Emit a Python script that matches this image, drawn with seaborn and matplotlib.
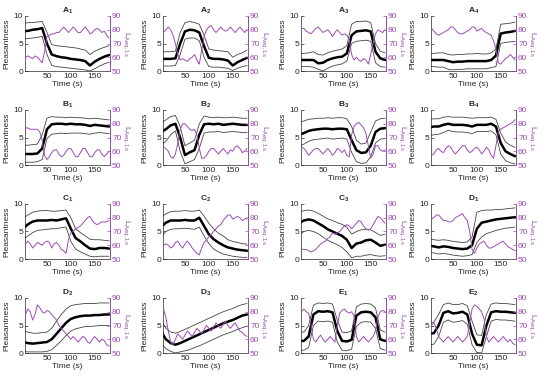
import numpy as np
import seaborn as sns
import matplotlib.pyplot as plt

sns.set_style("white")
plt.rcParams["font.family"] = ["Liberation Sans", "DejaVu Sans"]
plt.rcParams["mathtext.fontset"] = "custom"
plt.rcParams["mathtext.rm"] = "Liberation Sans"
plt.rcParams["mathtext.bf"] = "Liberation Sans:bold"

# time grids (s)
t_pl = list(range(0, 181, 10))      # pleasantness samples
t_la = list(range(5, 181, 5))       # L_Aeq,1s samples

# ---- A ----
A1_mean = [7.2, 7.3, 7.5, 7.6, 7.8, 5.0, 3.0, 2.7, 2.5, 2.4, 2.2, 2.1, 2.0, 1.8, 1.0, 1.7, 2.2, 2.6, 2.9]
A1_hi = [8.6, 8.8, 8.8, 8.9, 9.0, 7.0, 4.8, 4.6, 4.5, 4.4, 4.3, 4.2, 4.0, 3.8, 3.0, 3.6, 4.0, 4.3, 4.6]
A1_lo = [5.8, 5.9, 6.0, 6.1, 6.3, 3.0, 1.0, 0.8, 0.7, 0.6, 0.5, 0.4, 0.3, 0.2, 0.0, 0.4, 0.9, 1.3, 1.6]
A1_la = [60, 61, 60, 59, 61, 60, 58, 56, 64, 75, 76, 77, 77, 78, 78, 80, 82, 80, 78, 80, 82, 80, 78, 78,
         80, 82, 80, 77, 78, 80, 81, 80, 78, 79, 76, 74]

A2_mean = [2.2, 2.2, 2.2, 2.3, 5.0, 7.2, 7.5, 7.4, 7.0, 4.5, 2.4, 2.2, 2.2, 2.1, 1.9, 1.0, 1.6, 2.0, 2.4]
A2_hi = [3.5, 3.5, 3.5, 3.6, 7.0, 8.8, 9.0, 8.8, 8.5, 6.5, 4.0, 3.8, 3.7, 3.6, 3.5, 2.5, 3.0, 3.3, 3.8]
A2_lo = [0.9, 0.9, 0.9, 1.0, 3.0, 5.8, 6.0, 6.0, 5.5, 2.5, 0.8, 0.7, 0.7, 0.6, 0.5, 0.1, 0.5, 0.8, 1.0]
A2_la = [78, 80, 82, 80, 76, 70, 62, 58, 59, 58, 57, 59, 60, 62, 58, 55, 65, 75, 80, 82, 83, 80, 78, 80,
         82, 80, 79, 80, 82, 80, 78, 80, 82, 80, 78, 80]

A3_mean = [2.0, 2.0, 2.0, 2.0, 1.4, 1.5, 2.0, 2.3, 2.5, 2.6, 3.2, 6.5, 7.2, 7.3, 7.4, 7.2, 3.5, 2.3, 2.0]
A3_hi = [3.2, 3.2, 3.3, 3.5, 3.0, 2.9, 3.3, 3.6, 3.8, 4.0, 4.6, 8.5, 9.0, 9.0, 9.1, 8.8, 5.0, 3.6, 3.3]
A3_lo = [0.8, 0.8, 0.8, 0.7, 0.3, 0.0, 0.5, 0.9, 1.1, 1.3, 1.8, 5.0, 5.4, 5.5, 5.6, 5.4, 1.5, 0.8, 0.7]
A3_la = [81, 81, 79, 78, 77, 79, 81, 82, 80, 78, 79, 80, 78, 75, 78, 80, 78, 76, 77, 76, 73, 62, 58, 60,
         58, 57, 59, 58, 55, 62, 70, 77, 80, 79, 78, 80]

A4_mean = [2.0, 2.0, 2.0, 2.0, 1.8, 1.6, 1.7, 1.7, 1.8, 1.8, 1.8, 1.8, 1.8, 2.0, 2.8, 6.8, 7.0, 7.1, 7.3]
A4_hi = [3.2, 3.2, 3.3, 3.3, 3.0, 2.9, 3.0, 3.0, 3.1, 3.1, 3.2, 3.1, 3.1, 3.3, 4.0, 8.5, 8.6, 8.7, 8.9]
A4_lo = [0.8, 0.8, 0.7, 0.7, 0.3, 0.2, 0.3, 0.3, 0.4, 0.4, 0.4, 0.4, 0.4, 0.6, 0.8, 5.0, 5.2, 5.3, 5.4]
A4_la = [81, 79, 77, 76, 77, 78, 79, 80, 82, 82, 80, 78, 77, 77, 78, 79, 80, 82, 82, 79, 80, 81, 79, 78,
         77, 76, 72, 66, 56, 55, 57, 59, 60, 62, 60, 58]

# ---- B ----
B1_mean = [2.0, 2.0, 2.0, 2.1, 3.0, 6.5, 7.4, 7.5, 7.5, 7.4, 7.5, 7.4, 7.4, 7.3, 7.1, 7.3, 7.2, 7.1, 7.0]
B1_hi = [3.6, 3.6, 3.7, 3.8, 5.5, 8.5, 8.8, 8.7, 8.7, 8.6, 8.7, 8.6, 8.6, 8.5, 8.4, 8.5, 8.4, 8.3, 8.2]
B1_lo = [0.5, 0.5, 0.5, 0.6, 1.0, 4.8, 5.6, 5.7, 5.8, 5.7, 5.8, 5.8, 5.8, 5.7, 5.6, 5.8, 5.9, 5.8, 5.7]
B1_la = [77, 77, 76, 76, 76, 76, 74, 68, 57, 54, 56, 59, 61, 61, 58, 56, 57, 60, 62, 62, 59, 56, 56, 59,
         62, 62, 59, 56, 56, 59, 61, 61, 58, 56, 58, 60]

B2_mean = [6.0, 6.5, 7.2, 7.5, 5.0, 1.8, 2.3, 2.7, 5.5, 7.4, 7.5, 7.4, 7.5, 7.3, 7.4, 7.5, 7.4, 7.3, 7.3]
B2_hi = [7.6, 8.2, 8.8, 9.0, 7.0, 3.5, 4.0, 4.5, 7.5, 8.9, 8.7, 8.6, 8.7, 8.6, 8.6, 8.7, 8.6, 8.5, 8.5]
B2_lo = [3.6, 4.3, 5.5, 6.2, 2.5, 0.2, 0.6, 1.0, 3.0, 5.8, 6.0, 6.0, 6.1, 5.9, 6.0, 6.1, 6.0, 5.9, 5.9]
B2_la = [63, 62, 60, 56, 55, 58, 66, 76, 80, 80, 78, 76, 75, 76, 72, 62, 55, 55, 57, 60, 62, 62, 60, 58,
         60, 62, 60, 58, 61, 60, 63, 64, 62, 59, 60, 62]

B3_mean = [5.5, 5.8, 6.2, 6.4, 6.5, 6.6, 6.6, 6.5, 6.6, 6.6, 6.5, 4.5, 2.7, 2.2, 2.3, 3.5, 6.0, 6.6, 6.7]
B3_hi = [7.8, 8.0, 8.3, 8.4, 8.5, 8.5, 8.6, 8.5, 8.6, 8.6, 8.4, 7.0, 4.5, 3.8, 4.0, 6.0, 8.0, 8.4, 8.5]
B3_lo = [3.4, 3.8, 4.3, 4.6, 4.7, 4.8, 4.9, 4.7, 4.8, 4.9, 4.7, 2.3, 0.6, 0.3, 0.4, 1.5, 4.0, 4.7, 4.8]
B3_la = [63, 62, 60, 57, 59, 61, 62, 62, 60, 58, 60, 62, 60, 57, 59, 62, 61, 59, 61, 57, 56, 72, 78, 80,
         81, 79, 77, 73, 64, 55, 58, 64, 64, 61, 60, 61]

B4_mean = [6.8, 7.0, 7.0, 7.3, 7.5, 7.3, 7.3, 7.3, 7.2, 7.0, 7.3, 7.3, 7.3, 7.5, 7.0, 4.0, 2.5, 2.0, 1.6]
B4_hi = [8.3, 8.4, 8.4, 8.7, 8.8, 8.7, 8.7, 8.7, 8.6, 8.5, 8.6, 8.6, 8.6, 8.7, 8.3, 5.8, 4.2, 3.6, 3.2]
B4_lo = [5.3, 5.5, 5.6, 5.9, 6.3, 6.1, 6.0, 6.0, 5.9, 5.7, 6.1, 6.1, 6.1, 6.2, 5.5, 2.0, 0.8, 0.4, 0.2]
B4_la = [57, 58, 61, 62, 60, 59, 62, 64, 63, 60, 58, 60, 62, 64, 64, 61, 59, 60, 62, 63, 61, 58, 60, 63,
         61, 57, 55, 64, 74, 76, 77, 78, 79, 80, 81, 83]

# ---- C ----
C1_mean = [5.5, 6.3, 6.8, 7.0, 7.0, 7.0, 7.1, 7.0, 7.2, 7.4, 5.5, 3.8, 3.2, 2.5, 1.9, 1.8, 2.0, 2.0, 1.9]
C1_hi = [7.4, 8.0, 8.5, 8.7, 8.8, 8.8, 8.7, 8.7, 8.8, 8.9, 7.5, 5.5, 4.8, 4.2, 3.6, 3.5, 3.5, 3.4, 3.3]
C1_lo = [3.5, 4.2, 4.8, 5.2, 5.3, 5.4, 5.5, 5.5, 5.7, 5.8, 3.2, 1.8, 1.3, 0.9, 0.5, 0.4, 0.5, 0.5, 0.5]
C1_la = [61, 63, 61, 58, 60, 62, 61, 60, 62, 63, 62, 58, 61, 62, 60, 57, 56, 54, 64, 69, 70, 72, 73, 74,
         76, 78, 80, 81, 78, 76, 75, 76, 77, 77, 77, 78]

C2_mean = [5.8, 6.6, 7.0, 7.0, 7.0, 7.1, 7.0, 7.0, 7.5, 6.0, 4.5, 3.6, 3.0, 2.5, 2.1, 1.9, 1.7, 1.6, 1.5]
C2_hi = [7.6, 8.2, 8.6, 8.7, 8.7, 8.8, 8.7, 8.7, 8.9, 7.8, 6.5, 5.5, 4.7, 4.2, 3.5, 3.2, 3.0, 2.8, 2.7]
C2_lo = [4.0, 5.0, 5.4, 5.5, 5.5, 5.6, 5.5, 5.4, 5.8, 4.2, 2.8, 1.8, 1.3, 0.9, 0.7, 0.5, 0.4, 0.3, 0.3]
C2_la = [60, 61, 60, 58, 59, 62, 63, 60, 58, 61, 63, 61, 58, 56, 54, 53, 58, 62, 64, 66, 68, 70, 72, 74,
         75, 78, 80, 82, 82, 79, 80, 81, 80, 78, 79, 80]

C3_mean = [6.5, 7.0, 7.2, 7.0, 6.5, 6.0, 5.4, 5.0, 4.6, 4.2, 3.5, 2.0, 2.8, 3.0, 3.4, 3.5, 3.0, 2.4, 2.6]
C3_hi = [8.5, 8.8, 8.9, 8.7, 8.3, 7.8, 7.3, 7.0, 6.6, 6.3, 5.8, 4.5, 5.0, 5.3, 5.4, 5.3, 4.8, 4.3, 4.5]
C3_lo = [4.3, 5.0, 5.2, 5.0, 4.6, 4.0, 3.4, 3.0, 2.6, 2.1, 1.3, 0.2, 0.5, 0.5, 0.7, 0.8, 0.6, 0.5, 0.6]
C3_la = [57, 57, 57, 56, 55, 56, 57, 59, 61, 62, 63, 65, 66, 69, 68, 69, 70, 72, 74, 75, 74, 72, 74, 76,
         78, 77, 74, 72, 71, 72, 75, 78, 81, 80, 78, 76]

# ---- D ----
D1_mean = [2.4, 2.3, 2.1, 2.3, 2.2, 2.0, 1.9, 1.8, 1.9, 2.5, 5.5, 6.6, 6.8, 7.0, 7.2, 7.3, 7.4, 7.5, 7.6]
D1_hi = [3.6, 3.5, 3.4, 3.5, 3.4, 3.2, 3.1, 3.0, 3.1, 4.0, 8.5, 8.8, 8.9, 8.9, 9.0, 9.0, 9.1, 9.2, 9.3]
D1_lo = [1.2, 1.1, 0.9, 1.0, 0.9, 0.7, 0.6, 0.5, 0.6, 0.8, 3.0, 4.0, 4.6, 4.9, 5.2, 5.4, 5.6, 5.7, 5.8]
D1_la = [79, 80, 82, 82, 80, 78, 78, 77, 77, 78, 80, 81, 82, 83, 80, 78, 70, 57, 54, 58, 61, 62, 63, 60,
         58, 58, 59, 60, 61, 62, 63, 61, 59, 58, 57, 56]

D2_mean = [2.0, 1.8, 1.7, 1.8, 1.9, 2.0, 2.5, 3.5, 4.5, 5.5, 6.2, 6.5, 6.7, 6.8, 6.8, 6.9, 6.9, 7.0, 7.0]
D2_hi = [4.0, 3.8, 3.6, 3.6, 3.7, 3.8, 4.5, 5.8, 7.0, 8.0, 8.6, 8.8, 8.9, 9.0, 9.0, 9.0, 9.1, 9.1, 9.1]
D2_lo = [0.3, 0.2, 0.2, 0.2, 0.2, 0.3, 0.6, 1.4, 2.2, 3.2, 4.0, 4.4, 4.6, 4.8, 4.8, 4.9, 5.0, 5.0, 5.0]
D2_la = [78, 82, 80, 74, 78, 85, 83, 80, 79, 81, 80, 78, 76, 74, 70, 68, 66, 64, 62, 60, 62, 60, 58, 60,
         62, 61, 58, 57, 60, 62, 60, 58, 60, 59, 56, 55]

D3_mean = [4.0, 2.5, 1.8, 1.5, 1.8, 2.2, 2.6, 3.0, 3.4, 3.8, 4.2, 4.6, 5.0, 5.4, 5.7, 6.0, 6.4, 6.8, 7.0]
D3_hi = [6.0, 4.5, 3.8, 3.6, 3.9, 4.3, 4.7, 5.1, 5.5, 5.9, 6.3, 6.7, 7.1, 7.5, 7.8, 8.1, 8.5, 8.8, 9.0]
D3_lo = [1.8, 0.8, 0.3, 0.0, 0.2, 0.4, 0.6, 1.0, 1.3, 1.7, 2.1, 2.5, 2.9, 3.3, 3.6, 3.9, 4.3, 4.6, 4.9]
D3_la = [82, 76, 66, 58, 56, 60, 64, 62, 60, 63, 66, 64, 62, 65, 68, 66, 64, 67, 70, 68, 66, 69, 72, 70,
         68, 71, 73, 70, 68, 70, 72, 69, 66, 65, 63, 62]

# ---- E ----
E1_mean = [2.2, 2.2, 3.0, 7.0, 7.6, 7.5, 7.6, 7.4, 4.0, 2.2, 2.1, 2.4, 6.8, 7.4, 7.5, 7.4, 6.5, 2.5, 2.2]
E1_hi = [3.8, 3.8, 5.0, 8.7, 9.1, 9.0, 9.1, 8.9, 6.0, 3.8, 3.7, 4.0, 8.4, 8.9, 9.0, 8.9, 8.2, 4.2, 3.8]
E1_lo = [0.5, 0.5, 1.0, 5.0, 5.8, 5.7, 5.8, 5.6, 2.0, 0.5, 0.4, 0.7, 4.8, 5.6, 5.7, 5.6, 4.5, 0.8, 0.5]
E1_la = [80, 82, 80, 79, 70, 60, 58, 61, 63, 60, 58, 60, 62, 60, 58, 70, 79, 81, 82, 80, 79, 80, 77, 62,
         58, 60, 62, 60, 58, 60, 62, 66, 76, 80, 81, 80]

E2_mean = [3.5, 3.6, 5.0, 7.3, 7.6, 7.2, 7.3, 7.5, 7.0, 3.5, 1.5, 1.4, 5.0, 7.4, 7.6, 7.5, 7.5, 7.4, 7.3]
E2_hi = [5.5, 5.6, 7.0, 8.8, 9.1, 8.8, 8.8, 9.0, 8.6, 5.8, 3.3, 3.2, 7.0, 8.9, 9.1, 9.0, 9.0, 8.9, 8.8]
E2_lo = [1.5, 1.6, 3.0, 5.6, 6.0, 5.6, 5.7, 5.9, 5.2, 1.5, 0.1, 0.0, 3.0, 5.8, 6.1, 6.0, 6.0, 5.9, 5.8]
E2_la = [70, 72, 68, 62, 60, 58, 60, 62, 60, 58, 60, 62, 60, 58, 60, 62, 72, 82, 85, 84, 82, 80, 75, 62,
         58, 60, 62, 60, 58, 60, 62, 60, 58, 60, 57, 56]

panels = [
    ("A", "1", A1_mean, A1_hi, A1_lo, A1_la), ("A", "2", A2_mean, A2_hi, A2_lo, A2_la),
    ("A", "3", A3_mean, A3_hi, A3_lo, A3_la), ("A", "4", A4_mean, A4_hi, A4_lo, A4_la),
    ("B", "1", B1_mean, B1_hi, B1_lo, B1_la), ("B", "2", B2_mean, B2_hi, B2_lo, B2_la),
    ("B", "3", B3_mean, B3_hi, B3_lo, B3_la), ("B", "4", B4_mean, B4_hi, B4_lo, B4_la),
    ("C", "1", C1_mean, C1_hi, C1_lo, C1_la), ("C", "2", C2_mean, C2_hi, C2_lo, C2_la),
    ("C", "3", C3_mean, C3_hi, C3_lo, C3_la), ("D", "1", D1_mean, D1_hi, D1_lo, D1_la),
    ("D", "2", D2_mean, D2_hi, D2_lo, D2_la), ("D", "3", D3_mean, D3_hi, D3_lo, D3_la),
    ("E", "1", E1_mean, E1_hi, E1_lo, E1_la), ("E", "2", E2_mean, E2_hi, E2_lo, E2_la),
]

purple = "#9c4cb4"
fs = 6

fig = plt.figure(figsize=(5.5, 3.76), dpi=100)
W, H = 550, 376
col_left = [25, 163, 301, 431]
row_top = [16, 110, 204, 298]
aw, ah = 85, 55

for i, (letter, num, mean, hi, lo, la) in enumerate(panels):
    r, c = divmod(i, 4)
    ax = fig.add_axes([col_left[c] / W, 1 - (row_top[r] + ah) / H, aw / W, ah / H])
    sns.lineplot(x=t_pl, y=hi, ax=ax, color="#444444", lw=0.6)
    sns.lineplot(x=t_pl, y=lo, ax=ax, color="#444444", lw=0.6)
    sns.lineplot(x=t_pl, y=mean, ax=ax, color="black", lw=1.8)
    ax.set_xlim(4, 182)
    ax.set_ylim(0, 10)
    ax.set_xticks([50, 100, 150])
    ax.set_yticks([0, 5, 10])
    ax.set_xlabel("Time (s)", fontsize=fs, labelpad=1)
    ax.set_ylabel("Pleasantness", fontsize=fs, labelpad=2)
    ax.set_title(rf"$\mathbf{{{letter}_{num}}}$", fontsize=fs, pad=2)
    ax.tick_params(labelsize=fs, length=2, width=0.5, direction="in", pad=1.5)
    for s in ax.spines.values():
        s.set_linewidth(0.5)
    ax.spines["top"].set_visible(False)

    ax2 = ax.twinx()
    sns.lineplot(x=t_la, y=la, ax=ax2, color=purple, lw=0.7)
    ax2.set_ylim(50, 90)
    ax2.set_yticks([50, 60, 70, 80, 90])
    ax2.set_ylabel(r"L$_{\mathrm{Aeq,1s}}$", fontsize=fs, color=purple, rotation=270, labelpad=7)
    ax2.tick_params(labelsize=fs, length=2, width=0.5, direction="in", pad=1.5, colors=purple)
    ax2.spines["top"].set_visible(False)
    ax2.spines["left"].set_visible(False)
    ax2.spines["bottom"].set_visible(False)
    ax2.spines["right"].set_color(purple)
    ax2.spines["right"].set_linewidth(0.5)

fig.savefig("out.png", dpi=100)
